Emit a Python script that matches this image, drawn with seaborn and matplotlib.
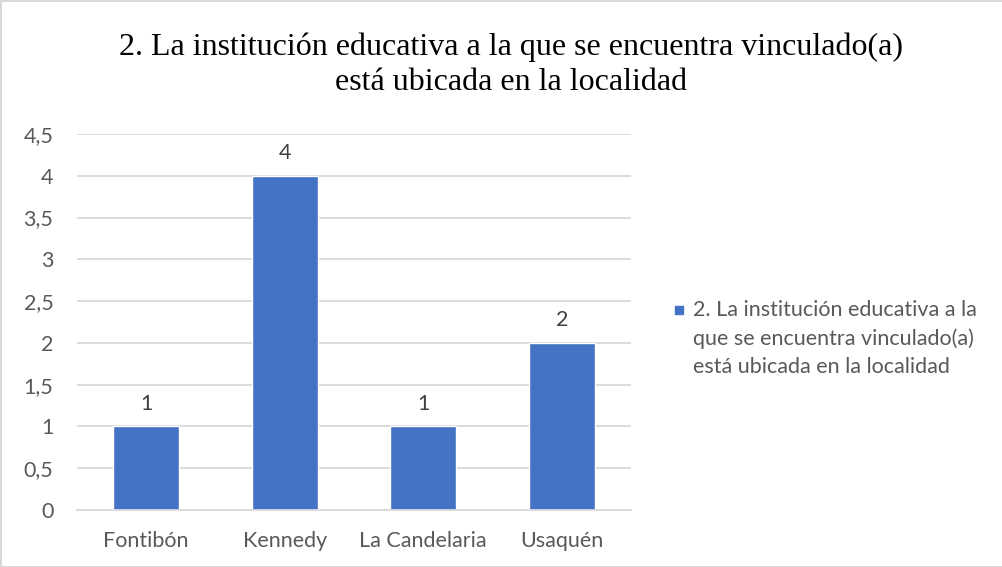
import matplotlib
matplotlib.use("Agg")
import matplotlib.pyplot as plt
import seaborn as sns
import pandas as pd
from matplotlib.lines import Line2D

categories = ["Fontibón", "Kennedy", "La Candelaria", "Usaquén"]
values = [1, 4, 1, 2]
series_lines = ["2. La institución educativa a la",
                "que se encuentra vinculado(a)",
                "está ubicada en la localidad"]
title = "2. La institución educativa a la que se encuentra vinculado(a)\nestá ubicada en la localidad"
yticks = [0, 0.5, 1, 1.5, 2, 2.5, 3, 3.5, 4, 4.5]
ytick_labels = ["0", "0,5", "1", "1,5", "2", "2,5", "3", "3,5", "4", "4,5"]

sns.set_theme(style="white")
plt.rcParams['font.family'] = ['Lato', 'DejaVu Sans']

BLUE = "#4472C4"
GRID = "#D9D9D9"
TXT = "#595959"
FS = 15.5

df = pd.DataFrame({"cat": categories, "val": values})

W, H = 1003, 567
fig = plt.figure(figsize=(W/100, H/100), dpi=100)
fig.patch.set_facecolor("white")
ax = fig.add_axes([77/W, 1-510/H, (631-77)/W, (510-134)/H])

sns.barplot(data=df, x="cat", y="val", color=BLUE, width=0.476, ax=ax, saturation=1)

ax.set_ylim(0, 4.5)
ax.set_xlim(-0.5, 3.5)
ax.set_yticks(yticks)
ax.set_yticklabels(ytick_labels)
ax.yaxis.grid(True, color=GRID, linewidth=1.3)
ax.set_axisbelow(True)
for s in ["top", "right", "left"]:
    ax.spines[s].set_visible(False)
ax.spines["bottom"].set_color(GRID)
ax.spines["bottom"].set_linewidth(1.3)
ax.set_xlabel("")
ax.set_ylabel("")
ax.tick_params(axis="y", length=0, labelsize=FS, labelcolor=TXT, pad=17)
ax.tick_params(axis="x", which="major", length=0, labelsize=FS, labelcolor=TXT, pad=15)
ax.set_xticks([-0.5, 0.5, 1.5, 2.5, 3.5], minor=True)
ax.tick_params(axis="x", which="minor", length=6, color=GRID, width=1.3)

for c in ax.containers:
    ax.bar_label(c, labels=[f"{v:g}" for v in values], fontsize=FS, color="#404040", padding=9)

fig.text(511/W, 1-65/H, title, ha="center", va="center", fontsize=23,
         family="Liberation Serif", color="black", linespacing=1.28)

# legend
legend_y = [310, 339, 367]
fig.add_artist(Line2D([679/W], [1-310/H], marker="s", markersize=5.5, color=BLUE,
                      linestyle="none", transform=fig.transFigure))
for line, yy in zip(series_lines, legend_y):
    fig.text(693/W, 1-yy/H, line, ha="left", va="center", fontsize=FS, color=TXT)

fig.patch.set_edgecolor(GRID)
fig.patch.set_linewidth(2)
fig.savefig("out.png", dpi=100, facecolor="white", edgecolor=GRID)
